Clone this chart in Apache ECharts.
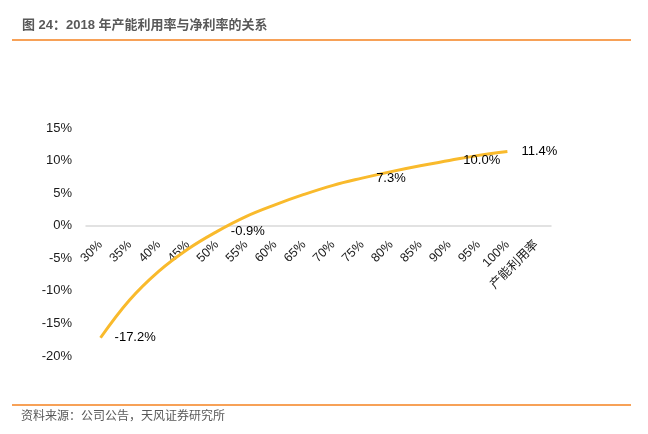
<!DOCTYPE html>
<html>
<head>
<meta charset="utf-8">
<script src="https://cdn.jsdelivr.net/npm/echarts@6/dist/echarts.min.js"></script>
<style>
html,body{margin:0;padding:0;background:#fff;}
#chart{width:648px;height:434px;}
</style>
</head>
<body>
<div id="chart"></div>
<script>
var categories = ['30%','35%','40%','45%','50%','55%','60%','65%','70%','75%','80%','85%','90%','95%','100%','产能利用率'];
var netMargin = [-17.2, -11.4, -7.0, -3.6, -0.9, 1.4, 3.2, 4.8, 6.2, 7.3, 8.3, 9.2, 10.0, 10.8, 11.4, null];
var labelledIdx = [0, 4, 9, 12, 14];
var yTicks = {min: -20, max: 15, interval: 5};
var titleText = '图 24：2018 年产能利用率与净利率的关系';
var sourceText = '资料来源：公司公告，天风证券研究所';

var FONT = "'Liberation Sans','Noto Sans CJK SC',sans-serif";
var chart = echarts.init(document.getElementById('chart'), null, {renderer:'canvas'});

var gridTop = 128, gridBottom = 78, plotH = 434 - gridTop - gridBottom;
// distance from bottom of plot to the zero line
var zeroOffset = plotH * (0 - yTicks.min) / (yTicks.max - yTicks.min);

var seriesData = netMargin.map(function(v, i){
  var item = {value: v};
  if (labelledIdx.indexOf(i) >= 0) {
    item.label = {show: true};
  }
  return item;
});

chart.setOption({
  animation: false,
  backgroundColor: '#ffffff',
  grid: {left: 86, right: 97, top: gridTop, bottom: gridBottom, containLabel: false},
  xAxis: {
    type: 'category',
    data: categories,
    boundaryGap: true,
    offset: -zeroOffset,
    axisLine: {onZero: false, lineStyle: {color: '#d9d9d9', width: 1.5}},
    axisTick: {show: false},
    axisLabel: {rotate: 45, margin: 17, interval: 0, color: '#1a1a1a', fontSize: 12.5, fontFamily: FONT},
    splitLine: {show: false}
  },
  yAxis: {
    type: 'value',
    min: yTicks.min, max: yTicks.max, interval: yTicks.interval,
    axisLine: {show: false},
    axisTick: {show: false},
    splitLine: {show: false},
    axisLabel: {formatter: '{value}%', color: '#1a1a1a', fontSize: 13, fontFamily: FONT, margin: 14}
  },
  series: [{
    type: 'line',
    data: seriesData,
    smooth: 0.4,
    showSymbol: true,
    symbol: 'circle',
    symbolSize: 0.1,
    lineStyle: {color: '#F9BA2C', width: 3},
    itemStyle: {color: '#F9BA2C'},
    label: {
      show: false,
      position: 'right',
      distance: 14,
      color: '#000',
      fontSize: 13,
      fontFamily: FONT,
      formatter: function(p){ return p.value.toFixed(1) + '%'; }
    }
  }],
  graphic: [
    {type: 'text', left: 22, top: 19, style: {text: titleText, fill: '#595959', font: "bold 13px " + FONT}},
    {type: 'line', shape: {x1: 12, y1: 40, x2: 631, y2: 40}, style: {stroke: '#F5821F', lineWidth: 1.5}},
    {type: 'line', shape: {x1: 12, y1: 405, x2: 631, y2: 405}, style: {stroke: '#F5821F', lineWidth: 1.5}},
    {type: 'text', left: 21, top: 411, style: {text: sourceText, fill: '#595959', font: "12px " + FONT}}
  ]
});
</script>
</body>
</html>
